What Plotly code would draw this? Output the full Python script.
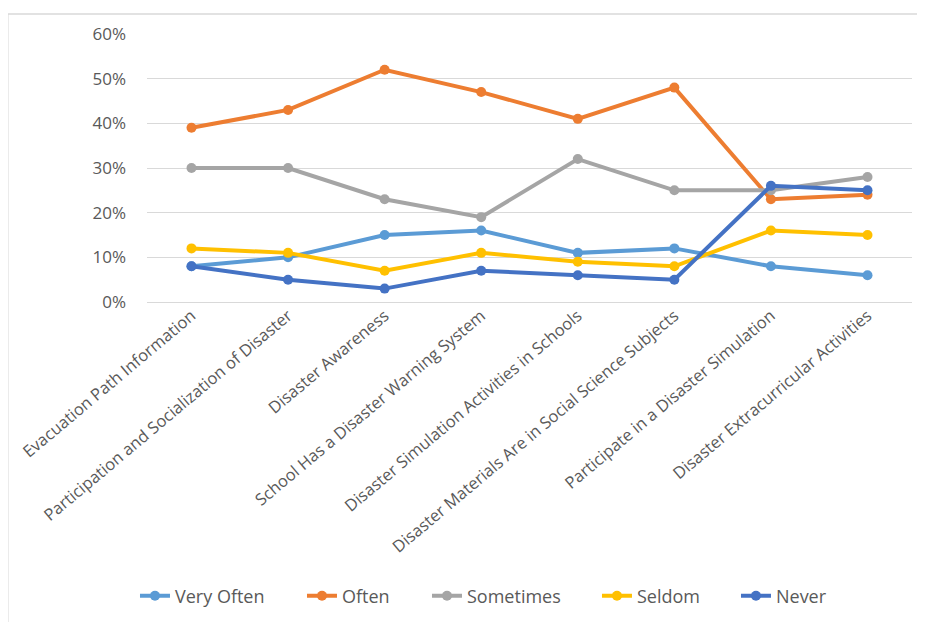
import plotly.graph_objects as go

categories = [
    "Evacuation Path Information",
    "Participation and Socialization of Disaster",
    "Disaster Awareness",
    "School Has a Disaster Warning System",
    "Disaster Simulation Activities in Schools",
    "Disaster Materials Are in Social Science Subjects",
    "Participate in a Disaster Simulation",
    "Disaster Extracurricular Activities",
]
very_often = [0.08, 0.10, 0.15, 0.16, 0.11, 0.12, 0.08, 0.06]
often = [0.39, 0.43, 0.52, 0.47, 0.41, 0.48, 0.23, 0.24]
sometimes = [0.30, 0.30, 0.23, 0.19, 0.32, 0.25, 0.25, 0.28]
seldom = [0.12, 0.11, 0.07, 0.11, 0.09, 0.08, 0.16, 0.15]
never = [0.08, 0.05, 0.03, 0.07, 0.06, 0.05, 0.26, 0.25]

series = [
    ("Very Often", very_often, "#5B9BD5"),
    ("Often", often, "#ED7D31"),
    ("Sometimes", sometimes, "#A5A5A5"),
    ("Seldom", seldom, "#FFC000"),
    ("Never", never, "#4472C4"),
]
legend_x = [-0.0157, 0.2026, 0.3660, 0.5882, 0.7699]
legend_ids = ["legend", "legend2", "legend3", "legend4", "legend5"]

fig = go.Figure()
for (name, vals, color), lid in zip(series, legend_ids):
    fig.add_trace(go.Scatter(
        x=categories, y=vals, name=name, mode="lines+markers",
        line=dict(color=color, width=4),
        marker=dict(color=color, size=10),
        legend=lid,
    ))

legends = {}
for lid, lx in zip(legend_ids, legend_x):
    legends[lid] = dict(orientation="h", x=lx, xanchor="left", y=-1.097, yanchor="middle",
                        font=dict(size=18, color="#595959"), bgcolor="rgba(0,0,0,0)",
                        borderwidth=0)

fig.update_layout(
    width=917, height=614,
    margin=dict(l=139, r=13, t=26, b=320, autoexpand=False),
    paper_bgcolor="white", plot_bgcolor="white",
    font=dict(family="Open Sans, Liberation Sans, sans-serif", size=16, color="#595959"),
    showlegend=True,
    xaxis=dict(type="category", tickangle=-40, showgrid=False, showline=False,
               ticks="", tickfont=dict(size=16.5, color="#595959"), automargin=False),
    yaxis=dict(range=[0, 0.6], dtick=0.1, tickformat=".0%", showgrid=True,
               gridcolor="#d9d9d9", gridwidth=1, zeroline=True, zerolinecolor="#d9d9d9",
               zerolinewidth=1, showline=False, ticks="", ticklabelstandoff=20,
               tickfont=dict(size=17, color="#595959"), automargin=False),
    shapes=[
        dict(type="line", xref="paper", yref="paper", x0=-0.183, x1=1.2, y0=1.0746, y1=1.0746,
             line=dict(color="#d9d9d9", width=1.5)),
        dict(type="line", xref="paper", yref="paper", x0=-0.182, x1=-0.182, y0=1.0746, y1=-1.3,
             line=dict(color="#d9d9d9", width=1.5)),
    ],
    **legends,
)

fig.write_html("out.html")
